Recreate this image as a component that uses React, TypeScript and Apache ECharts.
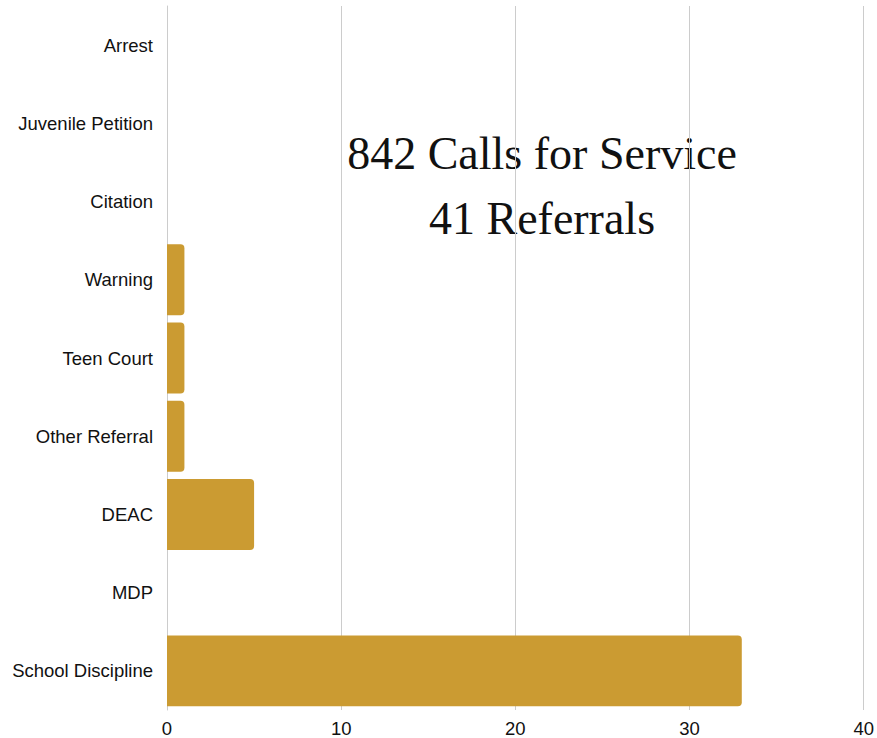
import React, { useEffect, useRef } from "react";
import * as echarts from "echarts";

const categories = [
  "Arrest",
  "Juvenile Petition",
  "Citation",
  "Warning",
  "Teen Court",
  "Other Referral",
  "DEAC",
  "MDP",
  "School Discipline",
];
const values = [0, 0, 0, 1, 1, 1, 5, 0, 33];
const titleLines = ["842 Calls for Service", "41 Referrals"];

export default function App() {
  const ref = useRef<HTMLDivElement>(null);
  useEffect(() => {
    if (!ref.current) return;
    const chart = echarts.init(ref.current, null, { renderer: "svg" });
    chart.setOption({
      animation: false,
      backgroundColor: "#ffffff",
      grid: { left: 167, right: 10, top: 6, bottom: 26, containLabel: false },
      xAxis: {
        type: "value",
        min: 0,
        max: 40,
        interval: 10,
        axisLine: { show: false },
        axisTick: { show: false },
        splitLine: { show: true, lineStyle: { color: "#cccccc", width: 1 } },
        axisLabel: {
          color: "#111111",
          fontSize: 18.5,
          fontFamily: "'Liberation Sans', Arial, sans-serif",
          margin: 9,
        },
      },
      yAxis: {
        type: "category",
        inverse: true,
        data: categories,
        axisLine: { show: true, lineStyle: { color: "#cccccc" } },
        axisTick: { show: false },
        axisLabel: {
          color: "#111111",
          fontSize: 18.5,
          fontFamily: "'Liberation Sans', Arial, sans-serif",
          margin: 14,
        },
      },
      series: [
        {
          type: "bar",
          data: values,
          barCategoryGap: "9.4%",
          itemStyle: { color: "#CB9B32", borderRadius: [0, 4, 4, 0] },
        },
      ],
      graphic: {
        elements: [
          {
            type: "text",
            id: "t1",
            x: 542,
            y: 153,
            style: {
              text: titleLines[0],
              fill: "#111111",
              font: "46px 'Liberation Serif'",
              align: "center",
              verticalAlign: "middle",
            },
          },
          {
            type: "text",
            id: "t2",
            x: 542,
            y: 218,
            style: {
              text: titleLines[1],
              fill: "#111111",
              font: "46px 'Liberation Serif'",
              align: "center",
              verticalAlign: "middle",
            },
          },
        ],
      },
    });
    return () => chart.dispose();
  }, []);
  return <div ref={ref} style={{ width: 877, height: 738, position: "absolute", left: 0, top: 0 }} />;
}
